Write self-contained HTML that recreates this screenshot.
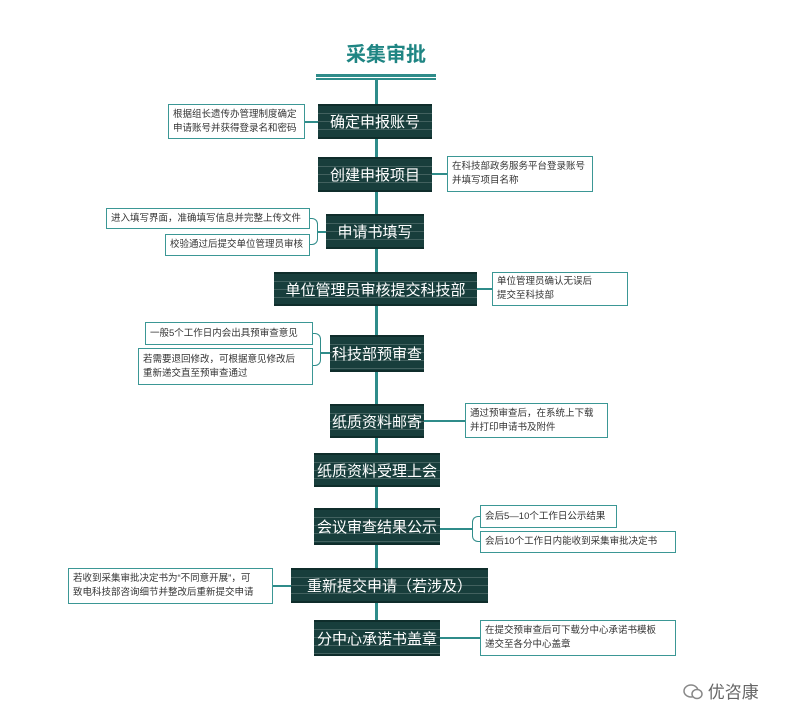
<!DOCTYPE html>
<html><head><meta charset="utf-8"><style>
body{margin:0;width:793px;height:720px;background:#fff;position:relative;overflow:hidden;font-family:"Liberation Sans","Noto Sans CJK SC",sans-serif}
.a{position:absolute;box-sizing:border-box}
.d{background:#183e3c;color:#fff;font-size:15px;display:flex;align-items:center;justify-content:center;border-top:2px solid #0f2d2b;border-bottom:2px solid #0f2d2b;white-space:nowrap;
background-image:repeating-linear-gradient(180deg,transparent 0 7px,rgba(255,255,255,.18) 7px 8px)}
.n{border:1.5px solid #3b9795;background:#fff;color:#333;font-size:9.5px;line-height:14px;padding:2px 4px;display:flex;flex-direction:column;justify-content:center;white-space:nowrap;overflow:hidden}
.h{height:2px;background:#2f8c8a}
</style></head><body>
<div class="a" style="left:346px;top:38px;color:#1f8583;font-size:20px;font-weight:bold;">采集审批</div>
<div class="a" style="left:316px;top:74px;width:120px;height:3px;background:#2f8c8a"></div>
<div class="a" style="left:316px;top:78px;width:120px;height:2px;background:#2f8c8a"></div>
<div class="a" style="left:375px;top:80px;width:3px;height:560px;background:#2f8c8a"></div>

<div class="a d" style="left:318px;top:104px;width:114px;height:35px">确定申报账号</div>
<div class="a d" style="left:318px;top:157px;width:114px;height:35px">创建申报项目</div>
<div class="a d" style="left:326px;top:214px;width:98px;height:35px">申请书填写</div>
<div class="a d" style="left:274px;top:272px;width:203px;height:34px">单位管理员审核提交科技部</div>
<div class="a d" style="left:330px;top:335px;width:94px;height:37px">科技部预审查</div>
<div class="a d" style="left:330px;top:404px;width:94px;height:34px">纸质资料邮寄</div>
<div class="a d" style="left:314px;top:453px;width:126px;height:34px">纸质资料受理上会</div>
<div class="a d" style="left:314px;top:508px;width:126px;height:37px">会议审查结果公示</div>
<div class="a d" style="left:291px;top:568px;width:197px;height:35px">重新提交申请（若涉及）</div>
<div class="a d" style="left:314px;top:620px;width:126px;height:36px">分中心承诺书盖章</div>

<div class="a n" style="left:168px;top:104px;width:137px;height:35px">根据组长遗传办管理制度确定<br>申请账号并获得登录名和密码</div>
<div class="a h" style="left:305px;top:121px;width:13px"></div>
<div class="a n" style="left:447px;top:156px;width:146px;height:36px">在科技部政务服务平台登录账号<br>并填写项目名称</div>
<div class="a h" style="left:432px;top:173px;width:15px"></div>
<div class="a n" style="left:106px;top:208px;width:204px;height:21px">进入填写界面，准确填写信息并完整上传文件</div>
<div class="a n" style="left:165px;top:234px;width:145px;height:22px">校验通过后提交单位管理员审核</div>
<div class="a" style="left:310px;top:218px;width:8px;height:27px;border:1.5px solid #2f8c8a;border-left:none;border-radius:0 6px 6px 0"></div>
<div class="a h" style="left:318px;top:231px;width:8px"></div>
<div class="a n" style="left:492px;top:272px;width:136px;height:34px">单位管理员确认无误后<br>提交至科技部</div>
<div class="a h" style="left:477px;top:288px;width:15px"></div>
<div class="a n" style="left:145px;top:322px;width:168px;height:23px">一般5个工作日内会出具预审查意见</div>
<div class="a n" style="left:138px;top:348px;width:175px;height:37px">若需要退回修改，可根据意见修改后<br>重新递交直至预审查通过</div>
<div class="a" style="left:313px;top:333px;width:8px;height:33px;border:1.5px solid #2f8c8a;border-left:none;border-radius:0 6px 6px 0"></div>
<div class="a h" style="left:321px;top:352px;width:9px"></div>
<div class="a n" style="left:465px;top:403px;width:143px;height:35px">通过预审查后，在系统上下载<br>并打印申请书及附件</div>
<div class="a h" style="left:424px;top:420px;width:41px"></div>
<div class="a n" style="left:480px;top:505px;width:137px;height:23px">会后5—10个工作日公示结果</div>
<div class="a n" style="left:480px;top:531px;width:196px;height:22px">会后10个工作日内能收到采集审批决定书</div>
<div class="a" style="left:472px;top:516px;width:8px;height:26px;border:1.5px solid #2f8c8a;border-right:none;border-radius:6px 0 0 6px"></div>
<div class="a h" style="left:440px;top:528px;width:32px"></div>
<div class="a n" style="left:68px;top:568px;width:205px;height:36px">若收到采集审批决定书为“不同意开展”，可<br>致电科技部咨询细节并整改后重新提交申请</div>
<div class="a h" style="left:273px;top:585px;width:18px"></div>
<div class="a n" style="left:480px;top:620px;width:196px;height:36px">在提交预审查后可下载分中心承诺书模板<br>递交至各分中心盖章</div>
<div class="a h" style="left:440px;top:637px;width:40px"></div>

<div class="a" style="left:683px;top:678px;font-size:17px;color:#666">
<svg width="20" height="16" style="vertical-align:-2px"><ellipse cx="8" cy="7" rx="7" ry="6" fill="none" stroke="#888" stroke-width="1.5"/><ellipse cx="14" cy="10" rx="5" ry="4.5" fill="#fff" stroke="#888" stroke-width="1.5"/></svg> 优咨康</div>
</body></html>
